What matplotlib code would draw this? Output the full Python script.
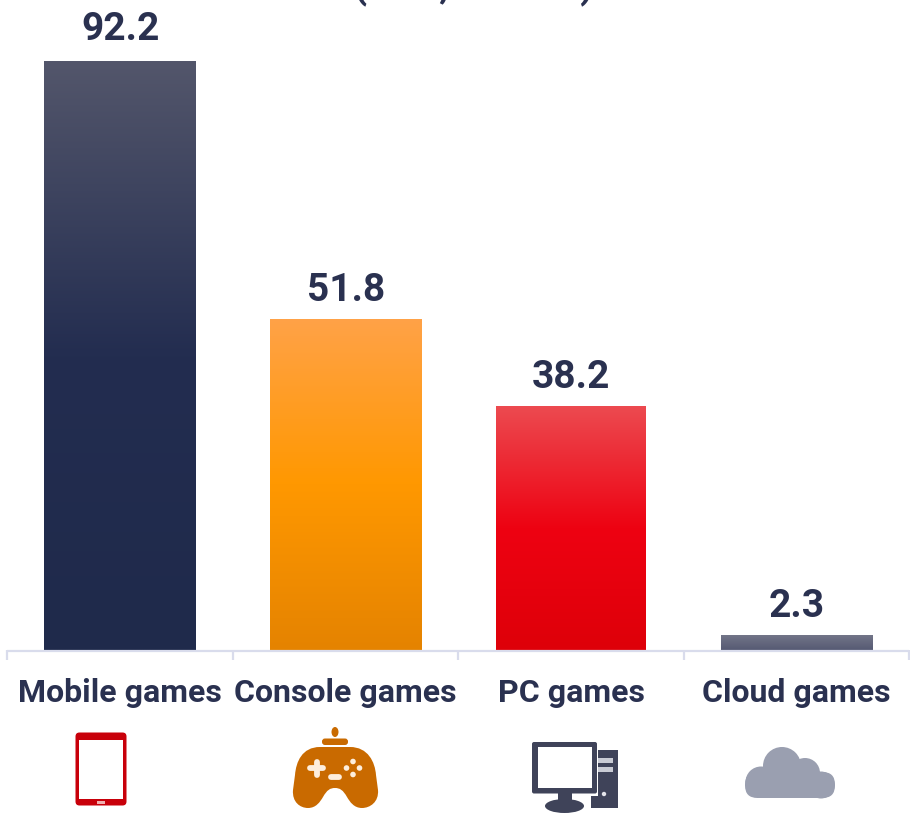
import numpy as np
import matplotlib
matplotlib.use("Agg")
import matplotlib.pyplot as plt
from matplotlib.colors import LinearSegmentedColormap
from matplotlib.patches import Rectangle, FancyBboxPatch, Circle, Ellipse, PathPatch
from matplotlib.path import Path

plt.rcParams['font.family'] = ['Roboto', 'DejaVu Sans']

categories = ["Mobile games", "Console games", "PC games", "Cloud games"]
values = [92.2, 51.8, 38.2, 2.3]
value_labels = ["92.2", "51.8", "38.2", "2.3"]
title_text = "(USD, billions)"

bar_gradients = [
    [(0.0, "#1f2a4b"), (0.5, "#232d50"), (1.0, "#53566b")],
    [(0.0, "#e58300"), (0.5, "#ff9800"), (1.0, "#ffa247")],
    [(0.0, "#de0009"), (0.5, "#ee0212"), (1.0, "#ec4a50")],
    [(0.0, "#565a73"), (1.0, "#727588")],
]

INK = "#2a3150"
AXIS = "#d9dcec"
W, H = 910, 814
fig = plt.figure(figsize=(W / 100, H / 100), dpi=100, facecolor="white")

# main plot area: the category band runs between the outer ticks, zero line at the bottom
base_y = 649.5
px_per_unit = 6.385
ax = fig.add_axes([7.4 / W, 1 - base_y / H, 902 / W, base_y / H])
ax.axis("off")

bar_widths = [0.674, 0.674, 0.665, 0.674]
label_gaps_px = [21, 17.5, 17.5, 17.5]
for i, (v, stops) in enumerate(zip(values, bar_gradients)):
    cmap = LinearSegmentedColormap.from_list(f"bar{i}", stops)
    half = bar_widths[i] / 2
    ax.imshow(np.linspace(0, 1, 256)[:, None], cmap=cmap, origin="lower", aspect="auto",
              extent=(i - half, i + half, 0, v), zorder=2, interpolation="bilinear")
    ax.text(i, v + label_gaps_px[i] / px_per_unit, value_labels[i], ha="center", va="baseline",
            fontsize=28, fontweight="bold", color=INK)
ax.set_xlim(-0.5, 3.5)
ax.set_ylim(0, base_y / px_per_unit)

# overlay in pixel units for the axis rule, labels and icons
ov = fig.add_axes([0, 0, 1, 1], zorder=5)
ov.set_xlim(0, W)
ov.set_ylim(H, 0)
ov.axis("off")
ov.patch.set_alpha(0)

ov.plot([7, 909], [650.5, 650.5], color=AXIS, lw=1.6, solid_capstyle="butt")
for k in range(5):
    x = 7 + k * 225.5
    ov.plot([x, x], [650, 660], color=AXIS, lw=1.6, solid_capstyle="butt")

for i, name in enumerate(categories):
    ov.text(7 + (i + 0.5) * 225.5 + 0.5, 692.5, name, ha="center", va="center", fontsize=23,
            fontweight="bold", color=INK)

ov.text(474, -2, title_text, ha="center", va="baseline", fontsize=27, fontweight="bold",
        color=INK, clip_on=False)

# tablet icon
RED = "#c8000a"
ov.add_patch(FancyBboxPatch((75.5, 732.5), 51, 73, boxstyle="round,pad=0,rounding_size=4",
                            fc=RED, ec="none"))
ov.add_patch(Rectangle((79, 740), 44, 59, fc="white", ec="none"))
ov.add_patch(Rectangle((97, 801), 8, 3, fc="#f0b0b0", ec="none"))

# gamepad icon
PAD = "#c96a00"
PAD_MARK = "#fdeedd"
ov.add_patch(Ellipse((335, 732), 7, 10, fc=PAD, ec="none"))
ov.add_patch(FancyBboxPatch((322, 738.5), 26, 6.5, boxstyle="round,pad=0,rounding_size=3", fc=PAD, ec="none"))
pad_verts = [(320, 747), (350, 747),
             (368, 747), (375, 762), (376, 775),
             (378, 790),
             (379, 802), (370, 808), (362, 808),
             (354, 808), (350, 802), (347, 797),
             (343, 790), (340, 788), (335, 788),
             (330, 788), (327, 790), (323, 797),
             (320, 802), (316, 808), (308, 808),
             (300, 808), (292, 802), (293, 790),
             (295, 775),
             (296, 762), (302, 747), (320, 747),
             (320, 747)]
pad_codes = [Path.MOVETO, Path.LINETO,
             Path.CURVE4, Path.CURVE4, Path.CURVE4,
             Path.LINETO,
             Path.CURVE4, Path.CURVE4, Path.CURVE4,
             Path.CURVE4, Path.CURVE4, Path.CURVE4,
             Path.CURVE4, Path.CURVE4, Path.CURVE4,
             Path.CURVE4, Path.CURVE4, Path.CURVE4,
             Path.CURVE4, Path.CURVE4, Path.CURVE4,
             Path.CURVE4, Path.CURVE4, Path.CURVE4,
             Path.LINETO,
             Path.CURVE4, Path.CURVE4, Path.CURVE4,
             Path.CLOSEPOLY]
ov.add_patch(PathPatch(Path(pad_verts, pad_codes), fc=PAD, ec="none"))
ov.plot([310, 323], [768, 768], color=PAD_MARK, lw=4.2, solid_capstyle="round")
ov.plot([316.5, 316.5], [762, 775], color=PAD_MARK, lw=4.2, solid_capstyle="round")
ov.plot([331, 339], [776.5, 776.5], color=PAD_MARK, lw=4.2, solid_capstyle="round")
for dx, dy in [(0, -6.5), (0, 6.5), (-6.5, 0), (6.5, 0)]:
    ov.add_patch(Circle((353 + dx, 768 + dy), 2.8, fc=PAD_MARK, ec="none"))

# desktop computer icon
PC = "#3f4359"
ov.add_patch(Rectangle((598, 750), 20, 58, fc=PC, ec="none"))
ov.add_patch(Rectangle((591, 796), 27, 12, fc=PC, ec="none"))
ov.add_patch(Rectangle((598, 758), 15, 5, fc="#c9cbd4", ec="none"))
ov.add_patch(Rectangle((598, 767), 15, 5, fc="#c9cbd4", ec="none"))
ov.add_patch(Circle((604, 794), 2.2, fc="#e4e5ea", ec="none"))
ov.add_patch(FancyBboxPatch((532, 742), 65, 51.5, boxstyle="round,pad=0,rounding_size=2", fc=PC, ec="none"))
ov.add_patch(Rectangle((537.5, 747), 54.5, 41, fc="white", ec="none"))
ov.add_patch(Rectangle((558, 793), 14, 10, fc=PC, ec="none"))
ov.add_patch(Ellipse((564.5, 806), 39, 14, fc=PC, ec="none"))

# cloud icon
CL = "#9a9fb0"
ov.add_patch(FancyBboxPatch((745, 772), 90, 26, boxstyle="round,pad=0,rounding_size=12.5", fc=CL, ec="none"))
ov.add_patch(Circle((782, 766), 19, fc=CL, ec="none"))
ov.add_patch(Circle((805, 773), 15, fc=CL, ec="none"))
ov.add_patch(Circle((761, 782), 15.5, fc=CL, ec="none"))
ov.add_patch(Circle((821, 785), 13.5, fc=CL, ec="none"))

fig.savefig("out.png", dpi=100, facecolor="white")
